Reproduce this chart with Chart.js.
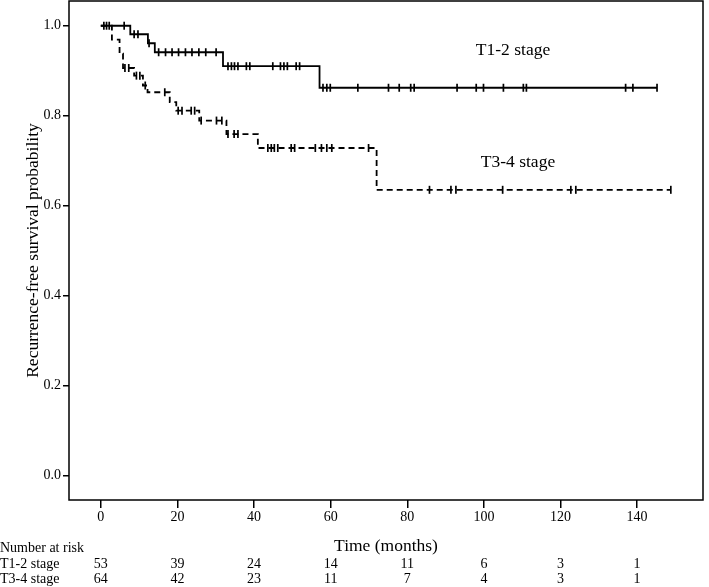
<!DOCTYPE html>
<html><head><meta charset="utf-8">
<script src="https://cdn.jsdelivr.net/npm/chart.js@4.4.1/dist/chart.umd.min.js"></script>
<style>html,body{margin:0;padding:0;background:#fff;}canvas{display:block;}</style>
</head><body>
<canvas id="c" width="709" height="587"></canvas>
<script>
const xTicks = [0, 20, 40, 60, 80, 100, 120, 140];
const yTicks = [0, 0.2, 0.4, 0.6, 0.8, 1.0];
const groups = ['T1-2 stage', 'T3-4 stage'];

// Kaplan-Meier steps: time of event and survival after it
const t12Times = [0, 7.7, 12.3, 14.1, 31.9, 57.1, 145.2];
const t12Surv  = [1.0, 0.981, 0.961, 0.941, 0.910, 0.862, 0.862];
const t12Censor = [0.8, 2.2, 6.1, 8.7, 9.7, 12.6, 15.1, 16.9, 18.6, 20.3, 22.1, 23.8, 25.6, 27.4, 30.1,
  33.2, 34.1, 34.9, 35.8, 38.0, 38.9, 44.9, 46.9, 47.8, 48.7, 51.0, 51.9,
  58.0, 59.0, 59.9, 67.1, 75.1, 77.9, 80.9, 81.8, 93.0, 98.0, 99.9, 105.1, 110.3, 111.1, 137.0, 138.9, 145.2];

const t34Times = [0, 2.9, 4.9, 5.8, 8.7, 11.0, 12.2, 18.0, 19.7, 25.7, 32.8, 41.0, 72.0, 148.8];
const t34Surv  = [1.0, 0.969, 0.938, 0.906, 0.889, 0.867, 0.852, 0.830, 0.811, 0.789, 0.759, 0.728, 0.635, 0.635];
const t34Censor = [1.5, 6.3, 7.3, 9.3, 10.2, 11.6, 16.7, 20.2, 21.2, 23.6, 24.5, 26.2, 30.2, 31.6,
  33.2, 34.8, 35.8, 43.6, 44.5, 45.3, 46.2, 49.7, 50.6, 56.0, 57.6, 59.0, 60.3, 69.9,
  85.8, 91.4, 92.7, 104.9, 122.7, 124.0, 148.8];

const riskT12 = [53, 39, 24, 14, 11, 6, 3, 1];
const riskT34 = [64, 42, 23, 11, 7, 4, 3, 1];

function stepPoints(times, surv) { return times.map((t, i) => ({x: t, y: surv[i]})); }
function levelAt(times, surv, t) {
  let v = surv[0];
  for (let i = 0; i < times.length; i++) { if (times[i] <= t) v = surv[i]; }
  return v;
}
function censorPoints(times, surv, cens) { return cens.map(t => ({x: t, y: levelAt(times, surv, t)})); }

const SERIF = '"Liberation Serif", "Times New Roman", serif';

const extras = {
  id: 'extras',
  afterDraw(chart) {
    const {ctx, chartArea: a, scales: {x, y}} = chart;
    ctx.save();
    ctx.strokeStyle = '#000'; ctx.lineWidth = 1.5;
    ctx.strokeRect(a.left, a.top, a.right - a.left, a.bottom - a.top);
    ctx.fillStyle = '#000';
    ctx.font = '17.5px ' + SERIF;
    ctx.textAlign = 'center'; ctx.textBaseline = 'middle';
    ctx.fillText(groups[0], x.getPixelForValue(107.6), y.getPixelForValue(0.944));
    ctx.fillText(groups[1], x.getPixelForValue(108.9), y.getPixelForValue(0.696));
    ctx.font = '14px ' + SERIF;
    ctx.textAlign = 'left';
    ctx.fillText('Number at risk', 0, 548);
    ctx.fillText(groups[0], 0, 564);
    ctx.fillText(groups[1], 0, 579.5);
    ctx.textAlign = 'center';
    xTicks.forEach((v, i) => {
      const px = x.getPixelForValue(v);
      ctx.fillText(String(riskT12[i]), px, 564);
      ctx.fillText(String(riskT34[i]), px, 579.5);
    });
    ctx.restore();
  }
};

function zeroPad(s) { s.paddingTop = 0; s.paddingBottom = 0; s.paddingLeft = 0; s.paddingRight = 0; }

new Chart(document.getElementById('c'), {
  type: 'scatter',
  data: {
    datasets: [
      {label: groups[0], data: stepPoints(t12Times, t12Surv), showLine: true, stepped: 'before',
       borderColor: '#000', borderWidth: 1.8, pointRadius: 0, fill: false},
      {label: groups[1], data: stepPoints(t34Times, t34Surv), showLine: true, stepped: 'before',
       borderColor: '#000', borderWidth: 1.8, borderDash: [6, 4], pointRadius: 0, fill: false},
      {label: groups[0] + ' censored', data: censorPoints(t12Times, t12Surv, t12Censor), showLine: false,
       pointStyle: 'line', pointRotation: 90, pointRadius: 4, pointBorderWidth: 1.7, pointBorderColor: '#000'},
      {label: groups[1] + ' censored', data: censorPoints(t34Times, t34Surv, t34Censor), showLine: false,
       pointStyle: 'line', pointRotation: 90, pointRadius: 4, pointBorderWidth: 1.7, pointBorderColor: '#000'}
    ]
  },
  options: {
    responsive: false, devicePixelRatio: 1, animation: false, events: [],
    layout: {autoPadding: false, padding: {top: 1, right: 6, left: 0, bottom: 0}},
    plugins: {legend: {display: false}, tooltip: {enabled: false}},
    scales: {
      x: {
        type: 'linear', min: -8.3, max: 157.2,
        afterBuildTicks: s => { s.ticks = xTicks.map(v => ({value: v})); },
        afterFit: s => { s.height = 87; zeroPad(s); },
        grid: {drawOnChartArea: false, drawTicks: true, tickLength: 8, color: '#000', lineWidth: 1.5},
        border: {display: false},
        ticks: {color: '#000', font: {family: SERIF, size: 14}, padding: 1, maxRotation: 0,
                callback: v => String(v)},
        title: {display: true, text: 'Time (months)', color: '#000', font: {family: SERIF, size: 17.5},
                padding: {top: 0, bottom: 30.5}}
      },
      y: {
        type: 'linear', min: -0.055, max: 1.055,
        afterBuildTicks: s => { s.ticks = yTicks.map(v => ({value: v})); },
        afterFit: s => { s.width = 69; zeroPad(s); },
        grid: {drawOnChartArea: false, drawTicks: true, tickLength: 6, color: '#000', lineWidth: 1.5},
        border: {display: false},
        ticks: {color: '#000', font: {family: SERIF, size: 14}, padding: 2,
                callback: v => Number(v).toFixed(1)},
        title: {display: true, text: 'Recurrence-free survival probability', color: '#000',
                font: {family: SERIF, size: 17.5}, padding: {top: 22.8, bottom: 0}}
      }
    }
  },
  plugins: [extras]
});
</script>
</body></html>
